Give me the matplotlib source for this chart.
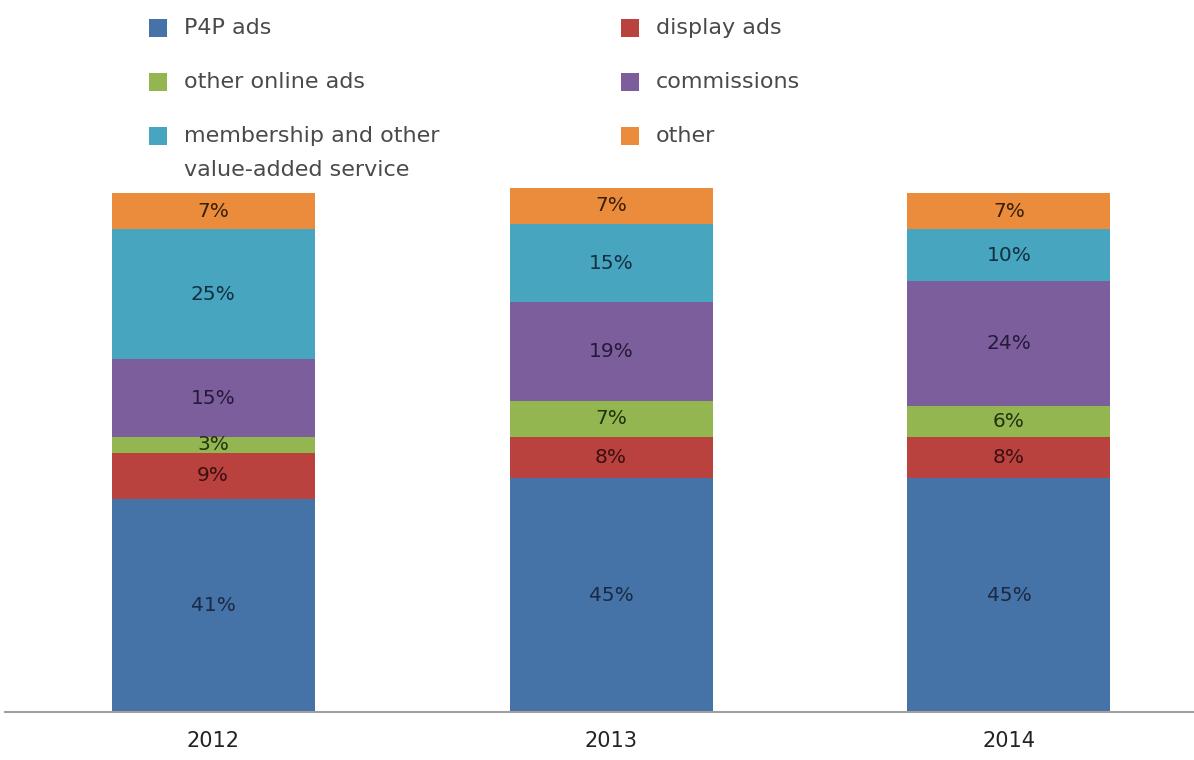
import matplotlib.pyplot as plt
from matplotlib.patches import Rectangle

# revenue mix by year, in percent
years = ['2012', '2013', '2014']
p4p_ads = [41, 45, 45]
display_ads = [9, 8, 8]
other_online_ads = [3, 7, 6]
commissions = [15, 19, 24]
membership = [25, 15, 10]
other = [7, 7, 7]

series_names = ['P4P ads', 'display ads', 'other online ads', 'commissions',
                'membership and other\nvalue-added service', 'other']
series_values = [p4p_ads, display_ads, other_online_ads, commissions, membership, other]
colors = ['#4572a7', '#b9413e', '#93b650', '#7c5e9d', '#47a5bf', '#ea8c3c']
label_colors = ['#1a2a44', '#3a1010', '#23320f', '#251a3a', '#123040', '#3a2008']

W, H = 1194, 760
fig = plt.figure(figsize=(W / 100, H / 100), dpi=100)
# axes: baseline at y=712 px, 100% at y=193 px
ax = fig.add_axes([5 / W, (H - 712) / H, 1 - 5 / W, (712 - 193) / H])

narrow = ['DejaVu Sans Condensed', 'DejaVu Sans']

x = list(range(len(years)))
bottom = [0, 0, 0]
for name, vals, col, lc in zip(series_names, series_values, colors, label_colors):
    bars = ax.bar(x, vals, width=0.51, bottom=bottom, color=col, label=name, clip_on=False)
    for b, v, y0 in zip(bars, vals, bottom):
        ax.text(b.get_x() + b.get_width() / 2, y0 + v / 2, f'{v}%',
                ha='center', va='center', fontsize=14.5, color=lc, family=narrow)
    bottom = [b0 + v for b0, v in zip(bottom, vals)]

ax.set_xlim(-0.523, 2.465)
ax.set_ylim(0, 100)
ax.set_yticks([])
ax.set_xticks(x)
ax.set_xticklabels(years, fontsize=15, family=narrow, color='#222222')
ax.tick_params(axis='x', length=0, pad=14)
for s in ['left', 'right', 'top']:
    ax.spines[s].set_visible(False)
ax.spines['bottom'].set_color('#a0a0a0')
ax.spines['bottom'].set_linewidth(1.5)

# legend drawn by hand: two columns, three rows, square swatch before each name
order = [0, 2, 4, 1, 3, 5]
col_x = [149, 621]
row_y = [28, 82, 136]
for k, i in enumerate(order):
    cx = col_x[k // 3]
    cy = row_y[k % 3]
    fig.patches.append(Rectangle((cx / W, 1 - (cy + 9) / H), 18 / W, 18 / H,
                                 transform=fig.transFigure, facecolor=colors[i],
                                 edgecolor='none'))
    fig.text((cx + 35) / W, 1 - cy / H, series_names[i].split('\n')[0],
             ha='left', va='center', fontsize=16, color='#4a4a4a')
    if '\n' in series_names[i]:
        fig.text((cx + 35) / W, 1 - (cy + 34) / H, series_names[i].split('\n')[1],
                 ha='left', va='center', fontsize=16, color='#4a4a4a')

fig.savefig('out.png', dpi=100)
